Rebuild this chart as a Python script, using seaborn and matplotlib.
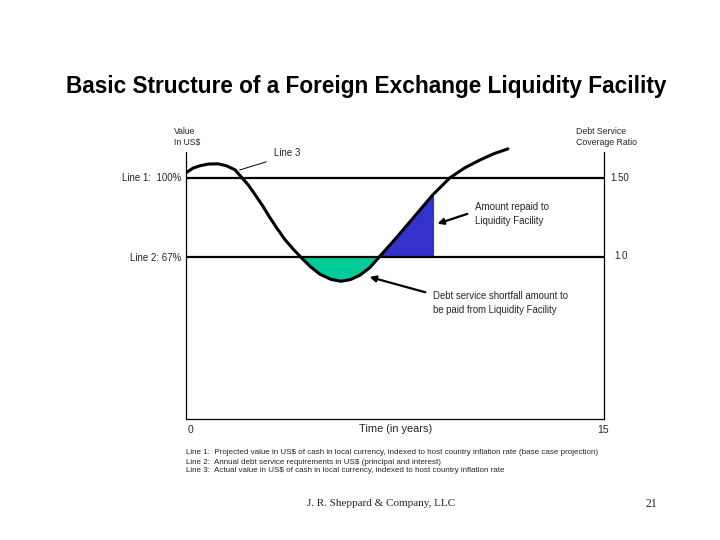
import numpy as np
import pandas as pd
import seaborn as sns
import matplotlib.pyplot as plt

# Line 3: actual value (% of base case), time in years
curve_years = [0.0, 0.25, 0.5, 0.8, 1.15, 1.45, 1.76, 2.01, 2.25, 2.48, 2.75, 3.01, 3.28,
               3.55, 3.85, 4.13, 4.45, 4.81, 5.2, 5.56, 5.9, 6.24, 6.6, 6.92, 7.4,
               7.86, 8.36, 8.86, 9.47, 10.0, 10.55, 11.05, 11.55]
curve_value = [102.1, 104.0, 105.0, 105.7, 105.8, 105.0, 103.3, 100.0, 96.8, 93.0, 88.4, 83.5, 78.8,
               74.4, 70.4, 67.0, 63.3, 60.0, 57.9, 57.1, 57.8, 59.6, 62.8, 67.0, 73.2,
               79.4, 86.2, 93.0, 100.0, 104.1, 107.4, 110.0, 112.0]
line1_value = 100   # projected value, 100 %
line2_value = 67    # debt service requirement, 67 %
repay_end = 8.86    # right edge of the repaid area
time_ticks = ["0", "15"]
footnotes = [
    "Line 1:  Projected value in US$ of cash in local currency, indexed to host country inflation rate (base case projection)",
    "Line 2:  Annual debt service requirements in US$ (principal and interest)",
    "Line 3:  Actual value in US$ of cash in local currency, indexed to host country inflation rate",
]

sns.set_style("white")
plt.rcParams['font.family'] = ['Liberation Sans', 'DejaVu Sans']

W, H = 720, 540


def fx(x):
    return x / W


def fy(y):
    return 1 - y / H


fig = plt.figure(figsize=(7.2, 5.4), dpi=100)
# axes box placed to match the slide: x 0..15 -> px 186..604, y 0 at px 419
ax = fig.add_axes([fx(186), fy(419), (604 - 186) / W, (419 - 140) / H])
ax.set_xlim(0, 15)
ax.set_ylim(0, 100 + (178 - 140) / 2.424)
ax.axis('off')

df = pd.DataFrame({'year': curve_years, 'value': curve_value})
x = df['year'].to_numpy()
y = df['value'].to_numpy()

ax.fill_between(x, y, line2_value, where=y <= line2_value, color='#00CC99', lw=0)
ax.fill_between(x, y, line2_value, where=(y >= line2_value) & (x >= 6.9) & (x <= repay_end),
                color='#3333CC', lw=0)
ax.plot([repay_end, repay_end], [line2_value, 93.0], color='#3333CC', lw=0.8)

ax.axhline(line1_value, color='black', lw=1.6)
ax.axhline(line2_value, color='black', lw=1.6)
top = 100 + (178 - 152) / 2.424
ax.plot([0, 0], [0, top], color='black', lw=0.9, clip_on=False)
ax.plot([15, 15], [0, top], color='black', lw=0.9, clip_on=False)
ax.plot([0, 15], [0, 0], color='black', lw=0.9, clip_on=False)

sns.lineplot(data=df, x='year', y='value', sort=False, color='black', lw=2.2, ax=ax)
ax.axis('off')

# leader line for Line 3 and arrows
ax.annotate('', xy=(1.83, 102.9), xycoords='data', xytext=(fx(269), fy(161)),
            textcoords='figure fraction', arrowprops=dict(arrowstyle='-', lw=0.7, color='black'))
ax.annotate('', xy=(8.93, 80.6), xycoords='data', xytext=(fx(470), fy(213)),
            textcoords='figure fraction',
            arrowprops=dict(arrowstyle='-|>', lw=1.6, color='black', mutation_scale=9))
ax.annotate('', xy=(6.49, 59.2), xycoords='data', xytext=(fx(428), fy(293)),
            textcoords='figure fraction',
            arrowprops=dict(arrowstyle='-|>', lw=1.6, color='black', mutation_scale=9))

fig.text(fx(366), fy(87), "Basic Structure of a Foreign Exchange Liquidity Facility",
         ha='center', va='center', fontsize=16.3, fontweight='bold', color='black')

small = 7.0
fig.text(fx(174), fy(137), "Value\nIn US$", ha='left', va='center', fontsize=6.2, linespacing=1.3)
fig.text(fx(576), fy(137), "Debt Service\nCoverage Ratio", ha='left', va='center', fontsize=6.3,
         linespacing=1.3)
fig.text(fx(274), fy(153), "Line 3", ha='left', va='center', fontsize=small)
fig.text(fx(181), fy(178), "Line 1:  100%", ha='right', va='center', fontsize=small)
fig.text(fx(181), fy(258), "Line 2: 67%", ha='right', va='center', fontsize=small)
fig.text(fx(610), fy(178), "1.50", ha='left', va='center', fontsize=small)
fig.text(fx(614), fy(256), "1.0", ha='left', va='center', fontsize=small)
fig.text(fx(475), fy(214), "Amount repaid to\nLiquidity Facility", ha='left', va='center',
         fontsize=small, linespacing=1.4)
fig.text(fx(433), fy(303), "Debt service shortfall amount to\nbe paid from Liquidity Facility",
         ha='left', va='center', fontsize=6.9, linespacing=1.4)

fig.text(fx(190), fy(430), time_ticks[0], ha='center', va='center', fontsize=7.5)
fig.text(fx(603), fy(430), time_ticks[1], ha='center', va='center', fontsize=7.5)
fig.text(fx(396), fy(429), "Time (in years)", ha='center', va='center', fontsize=7.9)

for i, note in enumerate(footnotes):
    fig.text(fx(186), fy(453 + 9 * i), note, ha='left', va='center', fontsize=5.75)

fig.text(fx(381), fy(504), "J. R. Sheppard & Company, LLC", ha='center', va='center',
         fontsize=8, family=['Liberation Serif', 'DejaVu Serif'])
fig.text(fx(651), fy(504), "21", ha='center', va='center', fontsize=8.5,
         family=['Liberation Serif', 'DejaVu Serif'])

fig.savefig('out.png', dpi=100)
